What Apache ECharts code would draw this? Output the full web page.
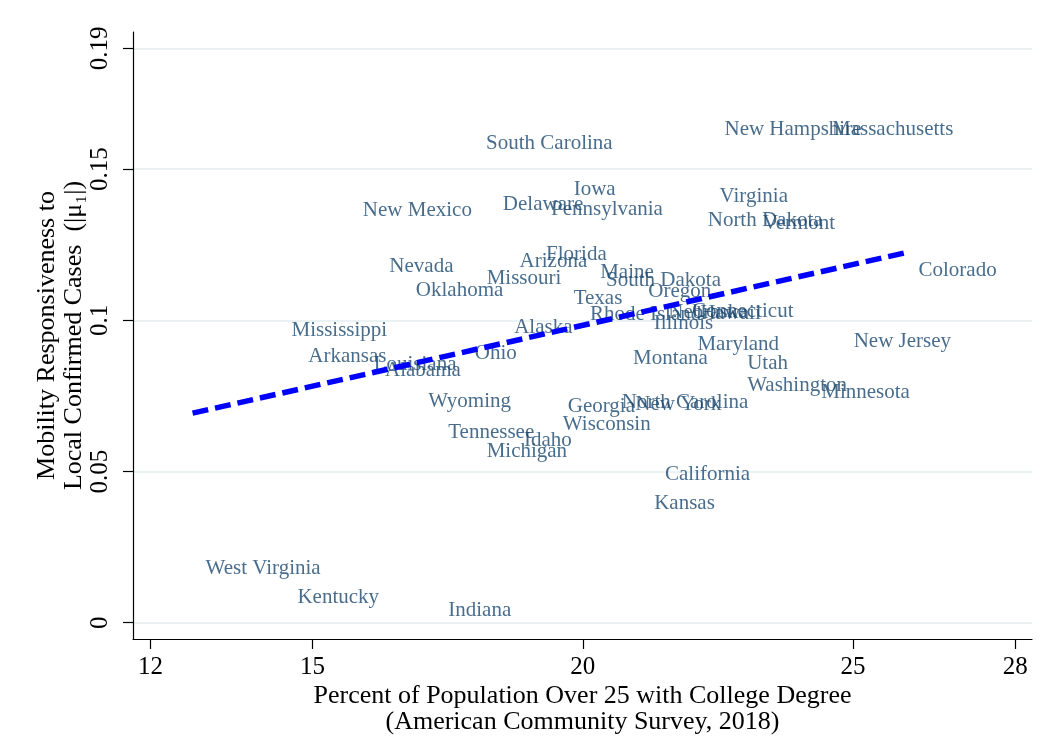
<!DOCTYPE html>
<html lang="en">
<head>
    <meta charset="utf-8">
    <script src="https://cdn.jsdelivr.net/npm/echarts@6.0.0/dist/echarts.min.js"></script>
    <style>
        html, body { margin: 0; padding: 0; background: #fff; }
        #chart { width: 1061px; height: 740px; }
    </style>
</head>
<body>
    <div id="chart"></div>
    <script type="text/javascript">
        // state labels, college share (%), mobility responsiveness |mu1|
        var states = ['New Hampshire', 'Massachusetts', 'South Carolina', 'Iowa', 'Virginia', 'New Mexico',
            'Delaware', 'Pennsylvania', 'North Dakota', 'Vermont', 'Florida', 'Arizona', 'Nevada', 'Missouri',
            'Maine', 'South Dakota', 'Colorado', 'Oklahoma', 'Oregon', 'Texas', 'Rhode Island', 'Nebraska',
            'Connecticut', 'Hawaii', 'Illinois', 'Alaska', 'Mississippi', 'Maryland', 'New Jersey', 'Ohio',
            'Arkansas', 'Montana', 'Louisiana', 'Alabama', 'Utah', 'Washington', 'Minnesota', 'Wyoming',
            'Georgia', 'North Carolina', 'New York', 'Wisconsin', 'Tennessee', 'Idaho', 'Michigan',
            'California', 'Kansas', 'West Virginia', 'Kentucky', 'Indiana'];
        var college = [22.38, 24.37, 17.97, 19.59, 22.29, 15.69,
            18.28, 19.17, 22.07, 23.09, 19.08, 18.59, 16.18, 17.98,
            20.08, 20.19, 25.97, 16.67, 20.97, 19.59, 19.89, 21.34,
            21.78, 21.93, 21.07, 18.49, 14.37, 21.88, 24.77, 17.76,
            14.68, 20.69, 15.89, 16.10, 22.80, 22.80, 24.17, 16.90,
            19.48, 20.48, 20.73, 19.39, 17.27, 18.67, 17.98,
            21.28, 21.08, 12.78, 14.48, 17.27];
        var responsiveness = [0.1630, 0.1630, 0.1585, 0.1432, 0.1410, 0.1364,
            0.1383, 0.1367, 0.1331, 0.1321, 0.1219, 0.1196, 0.1179, 0.1140,
            0.1159, 0.1132, 0.1166, 0.1099, 0.1097, 0.1072, 0.1019, 0.1026,
            0.1031, 0.1024, 0.0991, 0.0978, 0.0968, 0.0921, 0.0930, 0.0890,
            0.0882, 0.0873, 0.0854, 0.0833, 0.0857, 0.0785, 0.0760, 0.0733,
            0.0714, 0.0730, 0.0722, 0.0656, 0.0629, 0.0604, 0.0565,
            0.0490, 0.0395, 0.0180, 0.0082, 0.0040];

        // fitted line end points
        var fitX = [12.78, 25.97];
        var fitY = [0.0693, 0.1224];

        var xTicks = [12, 15, 20, 25, 28];
        var yTicks = [0, 0.05, 0.1, 0.15, 0.19];

        var serif = '"Liberation Serif", "Times New Roman", "DejaVu Serif", serif';

        var myChart = echarts.init(document.getElementById('chart'));

        var points = [];
        for (var i = 0; i < states.length; i++) {
            points.push({ name: states[i], value: [college[i], responsiveness[i]] });
        }
        var fitLine = [];
        for (var j = 0; j < fitX.length; j++) {
            fitLine.push([fitX[j], fitY[j]]);
        }

        var option = {
            backgroundColor: '#fff',
            animation: false,
            grid: { left: 133, right: 29, top: 32, bottom: 99, containLabel: false },
            xAxis: {
                type: 'value',
                min: 11.678,
                max: 28.31,
                name: 'Percent of Population Over 25 with College Degree\n(American Community Survey, 2018)',
                nameLocation: 'middle',
                nameGap: 44,
                nameMoveOverlap: false,
                nameTextStyle: { fontFamily: serif, fontSize: 26, lineHeight: 26, color: '#000' },
                axisLine: { onZero: false, lineStyle: { color: '#000', width: 1.2 } },
                axisTick: { show: true, length: 10, customValues: xTicks, lineStyle: { color: '#000', width: 1.2 } },
                axisLabel: { customValues: xTicks, fontFamily: serif, fontSize: 25, color: '#000', margin: 16 },
                splitLine: { show: false }
            },
            yAxis: {
                type: 'value',
                min: -0.0054,
                max: 0.1954,
                name: 'Mobility Responsiveness to\nLocal Confirmed Cases  (|\u03bc\u2081|)',
                nameLocation: 'middle',
                nameGap: 45,
                nameMoveOverlap: false,
                nameTextStyle: { fontFamily: serif, fontSize: 26, lineHeight: 27, color: '#000' },
                axisLine: { onZero: false, lineStyle: { color: '#000', width: 1.2 } },
                axisTick: { show: true, length: 10, customValues: yTicks, lineStyle: { color: '#000', width: 1.2 } },
                axisLabel: { customValues: yTicks, rotate: 90, fontFamily: serif, fontSize: 25, color: '#000', margin: 20 },
                splitLine: { show: true, lineStyle: { color: '#eaf2f3', width: 2 } }
            },
            series: [
                {
                    type: 'scatter',
                    data: points,
                    symbolSize: 0,
                    silent: true,
                    label: {
                        show: true,
                        position: 'right',
                        distance: 13,
                        formatter: '{b}',
                        fontFamily: serif,
                        fontSize: 21,
                        color: '#1a476f'
                    },
                    z: 2
                },
                {
                    type: 'line',
                    data: fitLine,
                    symbol: 'none',
                    silent: true,
                    lineStyle: { color: '#0000ff', width: 5.5, type: [16, 7], cap: 'butt' },
                    z: 3
                }
            ]
        };

        myChart.setOption(option);
    </script>
</body>
</html>
